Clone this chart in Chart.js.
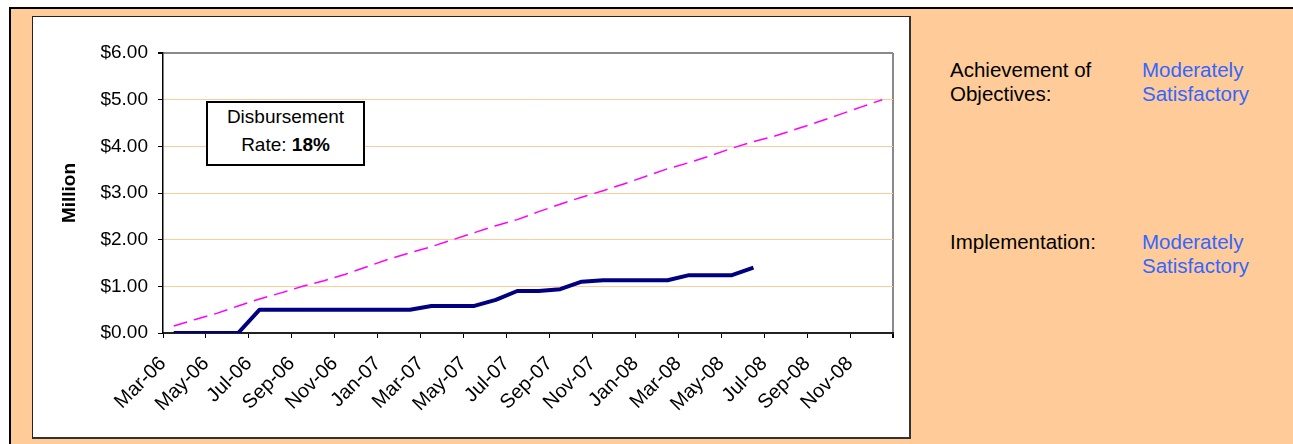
<!DOCTYPE html>
<html>
<head>
<meta charset="utf-8">
<title>Disbursement</title>
<script src="https://cdn.jsdelivr.net/npm/chart.js@4.4.1/dist/chart.umd.min.js"></script>
<style>
  html, body { margin: 0; padding: 0; background: #fff; width: 1293px; height: 444px; overflow: hidden;
    font-family: "Liberation Sans", Arial, sans-serif; }
  #panel { position: absolute; left: 9px; top: 7px; width: 1300px; height: 450px; box-sizing: border-box;
    background: #FFCC99; border-left: 2px solid #000; border-top: 2px solid #000; }
  #frame { position: absolute; left: 32px; top: 16px; width: 879px; height: 423px; box-sizing: border-box;
    background: #fff; border-left: 1px solid #222; border-top: 1px solid #222;
    border-right: 2px solid #333; border-bottom: 2px solid #333; }
  #chartWrap { position: absolute; left: 34px; top: 18px; width: 875px; height: 419px; }
  #note { position: absolute; left: 206px; top: 101px; width: 159px; height: 65px; box-sizing: border-box;
    border: 2px solid #000; background: #fff; text-align: center; font-size: 19px; line-height: 28px; color: #000; }
  .lbl { position: absolute; font-size: 20.5px; line-height: 24px; color: #000; white-space: nowrap; }
  .val { color: #3366FF; }
</style>
</head>
<body>
<div id="panel"></div>
<div id="frame"></div>
<div id="chartWrap"><canvas id="chart" width="875" height="419"></canvas></div>
<div id="note">Disbursement<br>Rate: <b>18%</b></div>

<div class="lbl" style="left:950px;top:58px;">Achievement of<br>Objectives:</div>
<div class="lbl val" style="left:1142px;top:58px;">Moderately<br>Satisfactory</div>
<div class="lbl" style="left:950px;top:230px;">Implementation:</div>
<div class="lbl val" style="left:1142px;top:230px;">Moderately<br>Satisfactory</div>

<script>
// Monthly periods, March 2006 through December 2008
const months = [
  'Mar-06','Apr-06','May-06','Jun-06','Jul-06','Aug-06','Sep-06','Oct-06','Nov-06','Dec-06',
  'Jan-07','Feb-07','Mar-07','Apr-07','May-07','Jun-07','Jul-07','Aug-07','Sep-07','Oct-07','Nov-07','Dec-07',
  'Jan-08','Feb-08','Mar-08','Apr-08','May-08','Jun-08','Jul-08','Aug-08','Sep-08','Oct-08','Nov-08','Dec-08'
];

// Cumulative actual disbursement ($ million), Mar-06 .. Jun-08
const actual = [
  0, 0, 0, 0, 0.5, 0.5, 0.5, 0.5, 0.5, 0.5, 0.5, 0.5,
  0.58, 0.58, 0.58, 0.71, 0.9, 0.9, 0.94, 1.1, 1.13, 1.13, 1.13, 1.13,
  1.24, 1.24, 1.24, 1.4
];

// Planned cumulative disbursement ($ million), Mar-06 .. Dec-08
const planned = [
  0.15, 0.29, 0.42, 0.58, 0.73, 0.86, 1.0, 1.12, 1.26, 1.42, 1.58, 1.72,
  1.85, 2.0, 2.15, 2.3, 2.43, 2.6, 2.76, 2.91, 3.05, 3.2, 3.36, 3.52,
  3.65, 3.8, 3.96, 4.1, 4.22, 4.37, 4.52, 4.68, 4.84, 5.0
];

const yTickLabels = ['$0.00', '$1.00', '$2.00', '$3.00', '$4.00', '$5.00', '$6.00'];

// each month occupies one unit on the x axis; values sit in the middle of their month
const toPoints = arr => arr.map((v, i) => ({ x: i + 0.5, y: v }));

Chart.defaults.font.family = '"Liberation Sans", Arial, sans-serif';
Chart.defaults.color = '#000';

new Chart(document.getElementById('chart'), {
  type: 'line',
  data: {
    datasets: [
      {
        label: 'Actual',
        data: toPoints(actual),
        borderColor: '#000080',
        borderWidth: 4,
        pointRadius: 0,
        tension: 0,
        borderJoinStyle: 'round'
      },
      {
        label: 'Planned',
        data: toPoints(planned),
        borderColor: '#FF00FF',
        borderWidth: 1.5,
        borderDash: [14, 7],
        pointRadius: 0,
        tension: 0
      }
    ]
  },
  options: {
    responsive: false,
    animation: false,
    devicePixelRatio: 1,
    layout: { padding: { left: 0, top: 35, right: 16, bottom: 4 } },
    plugins: { legend: { display: false }, tooltip: { enabled: false } },
    scales: {
      x: {
        type: 'linear',
        min: 0,
        max: months.length,
        ticks: {
          stepSize: 2,
          autoSkip: false,
          minRotation: 45,
          maxRotation: 45,
          padding: 14,
          font: { size: 20 },
          callback: v => (v < months.length ? months[v] : '')
        },
        grid: {
          color: c => (c.tick && c.tick.value === months.length ? '#8a8a8a' : 'transparent'),
          lineWidth: c => (c.tick && c.tick.value === months.length ? 2 : 1),
          tickColor: '#000',
          tickLength: 5
        },
        border: { color: '#222', width: 2 },
        afterFit: s => { s.height = 100; s.paddingLeft = 0; s.paddingRight = 0; }
      },
      y: {
        min: 0,
        max: 6,
        ticks: {
          stepSize: 1,
          padding: 10,
          font: { size: 19 },
          callback: (v, i) => yTickLabels[i]
        },
        grid: {
          color: c => {
            const v = c.tick ? c.tick.value : null;
            if (v === 6) return '#8a8a8a';
            if (v === 0) return 'transparent';
            return '#FFCC99';
          },
          lineWidth: c => (c.tick && c.tick.value === 6 ? 2 : 1),
          tickColor: '#000',
          tickLength: 5
        },
        border: { color: '#000', width: 1.5 },
        title: {
          display: true,
          text: 'Million',
          font: { size: 19, weight: 'bold' },
          padding: { top: 24, bottom: 0 }
        },
        afterFit: s => { s.width = 129; s.paddingTop = 0; s.paddingBottom = 0; }
      }
    }
  }
});
</script>
</body>
</html>
